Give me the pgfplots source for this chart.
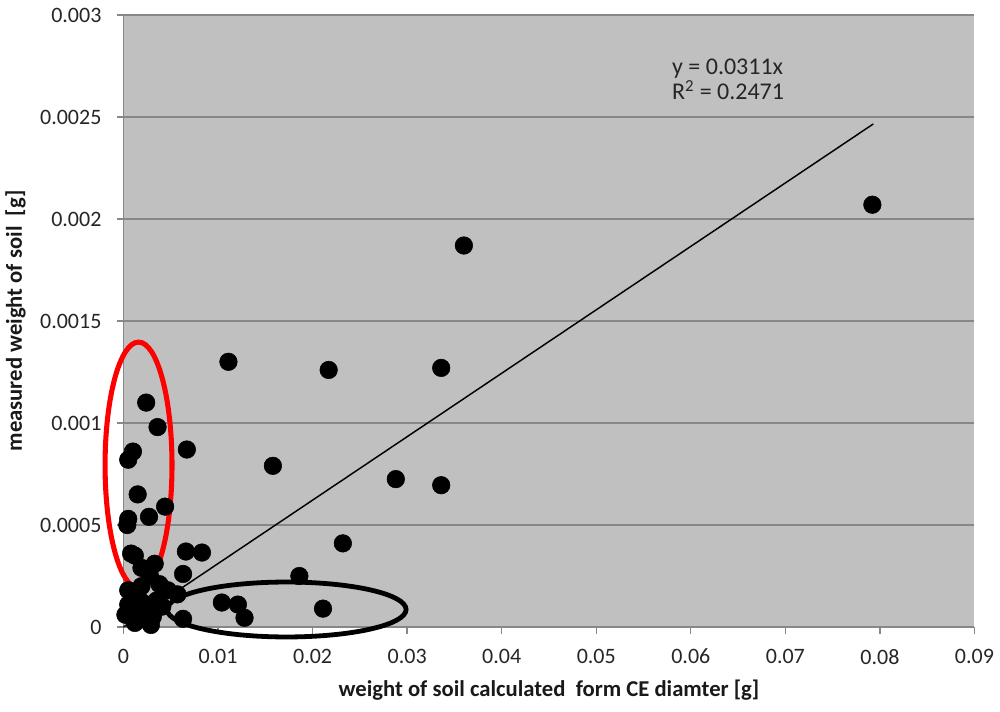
\documentclass[border=0pt]{standalone}
\usepackage{fontspec}
\setmainfont{Carlito}
\usepackage{pgfplots}
\pgfplotsset{compat=1.18}
\definecolor{bg}{RGB}{192,192,192}
\definecolor{gridc}{RGB}{135,135,135}
\begin{document}
\begin{tikzpicture}[x=1pt,y=1pt]
\useasboundingbox (-92.625,-63) rectangle (657.375,470.25);
\begin{axis}[
  at={(0,0)}, anchor=south west,
  scale only axis, width=638.25pt, height=459pt,
  xmin=0, xmax=0.09, ymin=0, ymax=0.003,
  axis x line=bottom, axis y line=left,
  axis line style={gridc, line width=1.3pt, -},
  axis background/.style={fill=bg},
  xtick={0,0.01,0.02,0.03,0.04,0.05,0.06,0.07,0.08,0.09},
  xticklabels={0,0.01,0.02,0.03,0.04,0.05,0.06,0.07,0.08,0.09},
  ytick={0,0.0005,0.001,0.0015,0.002,0.0025,0.003},
  yticklabels={0,0.0005,0.001,0.0015,0.002,0.0025,0.003},
  scaled ticks=false,
  tick align=outside, tick style={gridc, line width=1pt},
  major tick length=5pt,
  ymajorgrids, grid style={gridc, line width=1.4pt},
  ticklabel style={font=\fontsize{16.5}{19}\selectfont, text=black!85},
  xticklabel style={yshift=-8pt},
  yticklabel style={xshift=-8pt},
  xlabel={\fontsize{17}{19}\selectfont\bfseries weight of soil calculated\ \ form CE diamter [g]},
  ylabel={\fontsize{17}{19}\selectfont\bfseries measured weight of soil\ \ [g]},
  xlabel style={at={(axis description cs:0.5,-0.103)}, anchor=center, text=black!90},
  ylabel style={at={(axis description cs:-0.127,0.5)}, anchor=center, rotate=0, text=black!90},
  clip=false,
]
\addplot[black, line width=1.1pt] coordinates {(0,0) (0.0793,0.002466)};
\addplot[only marks, mark=*, mark size=6.6pt, mark options={fill=black, draw=black}] coordinates {
(0.0792,0.00207) (0.0360,0.00187) (0.0111,0.00130) (0.0217,0.00126) (0.0336,0.00127)
(0.0158,0.00079) (0.0288,0.000725) (0.0336,0.000695) (0.0232,0.00041) (0.0186,0.00025)
(0.0211,0.00009) (0.0104,0.00012) (0.0121,0.00011) (0.0128,0.000045) (0.0063,0.00004)
(0.0067,0.00087) (0.0066,0.00037) (0.0083,0.000365) (0.0063,0.00026)
(0.0024,0.00110) (0.0036,0.00098) (0.0010,0.00086) (0.0005,0.00082) (0.0015,0.00065)
(0.0044,0.00059) (0.0027,0.00054) (0.0005,0.00053) (0.0004,0.00050) (0.0008,0.00036)
(0.0012,0.00035) (0.0033,0.00031) (0.0019,0.00029)
(0.0005,0.00018) (0.0019,0.00020) (0.0038,0.00021) (0.0047,0.00018) (0.0057,0.00016)
(0.0005,0.00011) (0.0020,0.00012) (0.0035,0.00013) (0.0002,0.00006) (0.0017,0.00004)
(0.0031,0.00005) (0.0012,0.00002) (0.0029,0.00001) (0.0010,0.00010) (0.0025,0.00008)
(0.0041,0.00010) (0.0015,0.00015) (0.0028,0.00025)
};
\draw[red, line width=3.8pt] (axis cs:0.00159,0.000794) ellipse [x radius=25.1pt, y radius=92.2pt];
\draw[black, line width=3.6pt] (axis cs:0.01725,0.0000858) ellipse [x radius=89.6pt, y radius=20.6pt];
\node[anchor=north west, align=left, font=\fontsize{18}{18.75}\selectfont, text=black!85, inner sep=0pt]
  at (axis cs:0.0580,0.002784) {y = 0.0311x\\R\textsuperscript{2} = 0.2471};
\end{axis}
\end{tikzpicture}
\end{document}
